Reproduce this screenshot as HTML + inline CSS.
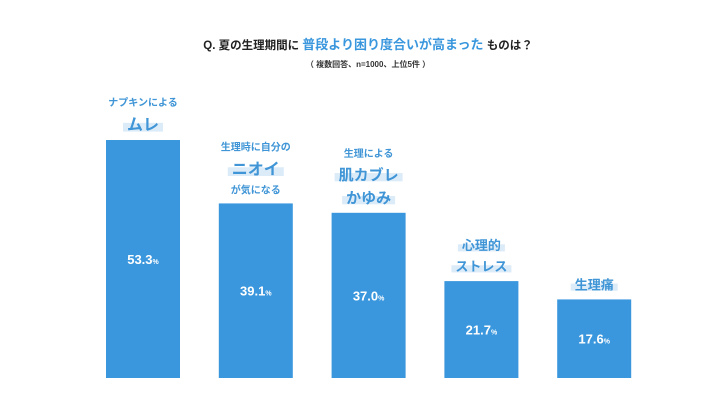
<!DOCTYPE html>
<html><head><meta charset="utf-8"><style>
body{margin:0;background:#fff;width:728px;height:410px;overflow:hidden;font-family:"Liberation Sans","Noto Sans CJK JP",sans-serif;}
svg{display:block}
</style></head><body>
<svg id="c" width="728" height="410">
<text x="368" y="49" text-anchor="middle" font-size="11.5" font-weight="bold" fill="#222">Q. 夏の生理期間に <tspan fill="#3a97dd" font-size="13">普段より困り度合いが高まった</tspan> ものは？</text>
<text x="368" y="67" text-anchor="middle" font-size="8" font-weight="bold" fill="#333">（ 複数回答、n=1000、上位5件 ）</text>
<g id="bars"></g>
</svg>
<script>
const categories=["ムレ","ニオイ","肌カブレかゆみ","心理的ストレス","生理痛"];
const values=[53.3,39.1,37.0,21.7,17.6];
const valueLabels=["53.3","39.1","37.0","21.7","17.6"];
const catLines=[[["ナプキンによる",10,0],["ムレ",16,1]],[["生理時に自分の",10,0],["ニオイ",16,1],["が気になる",10,0]],[["生理による",10,0],["肌カブレ",15,1],["かゆみ",15,1]],[["心理的",13,1],["ストレス",13,1]],[["生理痛",13,1]]];
const ns="http://www.w3.org/2000/svg";
const g=document.getElementById('bars');
const base=378,scale=4.465,x0=106,step=112.8,bw=74;
const y=v=>base-v*scale;
function mk(t,a){const e=document.createElementNS(ns,t);for(const k in a)e.setAttribute(k,a[k]);g.appendChild(e);return e;}
values.forEach((v,i)=>{
 const x=x0+i*step,top=y(v);
 const r=mk('rect',{x:x,y:top,width:bw,height:base-top,fill:'#3a97dd'});
 
 
 const t=mk('text',{x:x+bw/2,y:top+(base-top)/2+5,'text-anchor':'middle','font-size':13,'font-weight':'bold',fill:'#fff'});
 t.textContent=valueLabels[i];
 const s=document.createElementNS(ns,'tspan');s.setAttribute('font-size','7');s.textContent='%';t.appendChild(s);
 
 
 const lines=catLines[i];
 let cy=top-10;
 for(let j=lines.length-1;j>=0;j--){
  const [txt,fs,hl]=lines[j];
  if(hl){const w=txt.length*fs+8;mk('rect',{x:x+bw/2-w/2,y:cy-fs*0.45,width:w,height:fs*0.55,fill:'#dcebf8'});}
  const lt=mk('text',{x:x+bw/2,y:cy,'text-anchor':'middle','font-size':fs,'font-weight':'bold',fill:'#3f95d6'});
  lt.textContent=txt;
  
  
  cy-=fs+(fs>11?8:9);
 }
});
</script>
</body></html>
